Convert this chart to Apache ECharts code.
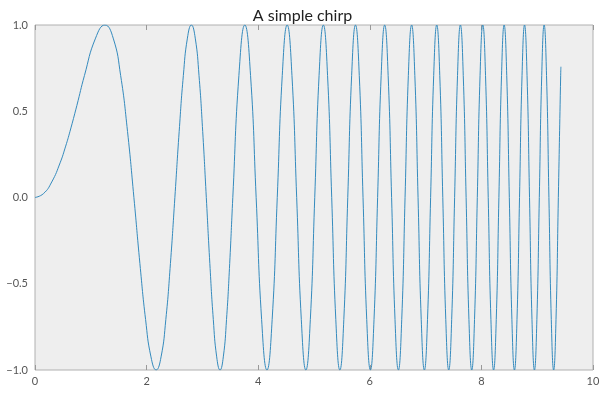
<!DOCTYPE html>
<html>
<head>
<meta charset="utf-8">
<script src="https://cdn.jsdelivr.net/npm/echarts@6/dist/echarts.min.js"></script>
<style>html,body{margin:0;padding:0;background:#fff;}#c{width:605px;height:394px;}</style>
</head>
<body>
<div id="c"></div>
<script>
var titleText = "A simple chirp";
var xTicks = [0, 2, 4, 6, 8, 10];
var yTicks = [-1.0, -0.5, 0.0, 0.5, 1.0];
// points: x positions and y values
var xs = [0, 0.15, 0.3, 0.45, 0.55, 0.6267, 0.75, 0.8862, 1.0854, 1.2533, 1.4012, 1.5350, 1.6580, 1.7725, 1.8800, 1.9817, 2.0784, 2.1708, 2.2594, 2.3447, 2.4270, 2.5066, 2.5838, 2.6587, 2.7315, 2.8025, 2.8717, 2.9393, 3.0054, 3.0700, 3.1333, 3.1953, 3.2562, 3.3160, 3.3747, 3.4323, 3.4891, 3.5449, 3.6540, 3.7599, 3.8630, 3.9633, 4.0612, 4.1568, 4.2502, 4.3416, 4.4311, 4.5189, 4.6050, 4.6895, 4.7725, 4.8541, 4.9343, 5.0133, 5.0910, 5.1675, 5.2430, 5.3173, 5.3907, 5.4631, 5.5345, 5.6050, 5.6746, 5.7434, 5.8114, 5.8786, 5.9450, 6.0107, 6.0756, 6.1400, 6.2036, 6.2666, 6.3289, 6.3907, 6.4518, 6.5124, 6.5724, 6.6319, 6.6909, 6.7493, 6.8072, 6.8647, 6.9217, 6.9782, 7.0342, 7.0898, 7.1450, 7.1997, 7.2541, 7.3080, 7.3616, 7.4147, 7.4675, 7.5199, 7.5720, 7.6236, 7.6750, 7.7260, 7.7766, 7.8269, 7.8769, 7.9267, 7.9760, 8.0251, 8.0739, 8.1224, 8.1706, 8.2185, 8.2662, 8.3135, 8.3606, 8.4075, 8.4541, 8.5004, 8.5465, 8.5923, 8.6379, 8.6832, 8.7283, 8.7732, 8.8179, 8.8623, 8.9065, 8.9505, 8.9942, 9.0378, 9.0811, 9.1242, 9.1672, 9.2099, 9.2525, 9.2948, 9.3370, 9.3789, 9.4207, 9.4248];
var ys = [0, 0.022, 0.090, 0.201, 0.298, 0.383, 0.533, 0.707, 0.924, 1, 0.924, 0.707, 0.383, 0, -0.383, -0.707, -0.924, -1, -0.924, -0.707, -0.383, 0, 0.383, 0.707, 0.924, 1, 0.924, 0.707, 0.383, 0, -0.383, -0.707, -0.924, -1, -0.924, -0.707, -0.383, 0, 0.707, 1, 0.707, 0, -0.707, -1, -0.707, 0, 0.707, 1, 0.707, 0, -0.707, -1, -0.707, 0, 0.707, 1, 0.707, 0, -0.707, -1, -0.707, 0, 0.707, 1, 0.707, 0, -0.707, -1, -0.707, 0, 0.707, 1, 0.707, 0, -0.707, -1, -0.707, 0, 0.707, 1, 0.707, 0, -0.707, -1, -0.707, 0, 0.707, 1, 0.707, 0, -0.707, -1, -0.707, 0, 0.707, 1, 0.707, 0, -0.707, -1, -0.707, 0, 0.707, 1, 0.707, 0, -0.707, -1, -0.707, 0, 0.707, 1, 0.707, 0, -0.707, -1, -0.707, 0, 0.707, 1, 0.707, 0, -0.707, -1, -0.707, 0, 0.707, 1, 0.707, 0, -0.707, -1, -0.707, 0, 0.707, 0.758];

var data = xs.map(function (x, i) { return [x, ys[i]]; });
var chart = echarts.init(document.getElementById('c'), null, {renderer: 'canvas'});
var font = 'Lato, "Noto Sans", sans-serif';
function xAxisBase() {
  return {
    type: 'value', min: xTicks[0], max: xTicks[xTicks.length - 1], interval: xTicks[1] - xTicks[0],
    axisLine: {show: false, onZero: false}, splitLine: {show: false},
    axisTick: {show: true, inside: true, length: 5, lineStyle: {color: '#999', width: 1}}
  };
}
chart.setOption({
  animation: false,
  backgroundColor: '#ffffff',
  title: {text: titleText, left: 'center', top: 3,
    textStyle: {fontFamily: font, fontSize: 16, fontWeight: 'normal', color: '#222'}},
  grid: {left: 35, right: 12, top: 25, bottom: 24, show: true,
    backgroundColor: '#eeeeee', borderColor: '#b0b0b0', borderWidth: 1},
  xAxis: [
    Object.assign(xAxisBase(), {position: 'bottom',
      axisLabel: {show: true, margin: 6, color: '#555', fontSize: 11, fontFamily: font}}),
    Object.assign(xAxisBase(), {position: 'top', axisLabel: {show: false}})
  ],
  yAxis: {
    type: 'value', min: yTicks[0], max: yTicks[yTicks.length - 1], interval: 0.5,
    axisLine: {show: false, onZero: false}, splitLine: {show: false}, axisTick: {show: false},
    axisLabel: {margin: 7, color: '#555', fontSize: 11, fontFamily: font,
      formatter: function (v) { return v.toFixed(1).replace('-', '\u2212'); }}
  },
  series: [{
    type: 'line', xAxisIndex: 0, data: data, showSymbol: false,
    smooth: 0.5,
    lineStyle: {color: '#348ABD', width: 1}
  }]
});
</script>
</body>
</html>
